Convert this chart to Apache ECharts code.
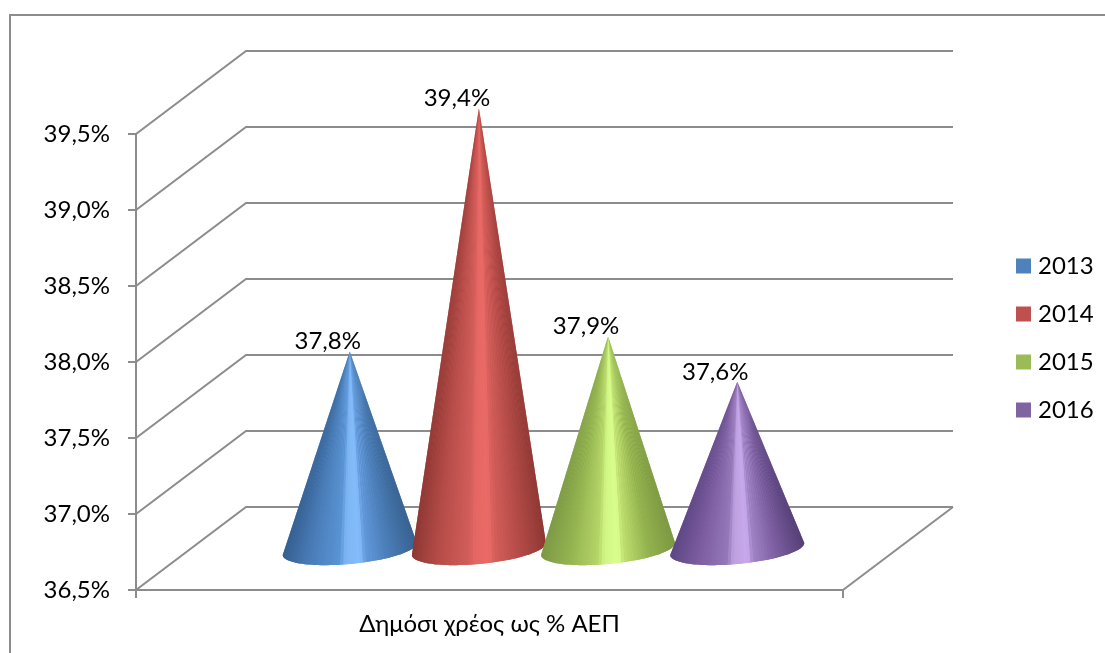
<!DOCTYPE html>
<html>
<head>
<meta charset="utf-8">
<style>
  html, body { margin: 0; padding: 0; background: #fff; }
  #chart { width: 1105px; height: 653px; }
</style>
<script src="https://cdn.jsdelivr.net/npm/echarts@6/dist/echarts.min.js"></script>
</head>
<body>
<div id="chart"></div>
<script>
// Chart data
const categories = ['Δημόσι χρέος ως % ΑΕΠ'];
const years = ['2013', '2014', '2015', '2016'];
const debtShare = [37.8, 39.4, 37.9, 37.6];
const wallTicks = [36.5, 37, 37.5, 38, 38.5, 39, 39.5];

// Appearance
const FONT = 'Lato, "Noto Sans", sans-serif';
const FONT_SIZE = 24;
const AXIS_GREY = '#8c8c8c';
const legendColors = ['#4f81bd', '#c0504d', '#9bbb59', '#8064a2'];
const shadePositions = [0, 0.2, 0.42, 0.47, 0.58, 0.62, 0.8, 1];
const coneShades = [
  ['#366092', '#4a7db8', '#5a94d4', '#7eb6f5', '#85bdfb', '#6299dc', '#4a7cb5', '#386290'],
  ['#8f3835', '#b74d49', '#d15d59', '#e56763', '#ea6b67', '#d45e5a', '#b54c48', '#8f3835'],
  ['#7d9a45', '#93b350', '#b5d568', '#d0f585', '#dbff8f', '#bfdf70', '#94b44f', '#7d9843'],
  ['#5f4784', '#7c5da0', '#9478b8', '#bea0e0', '#c8aaee', '#a184c5', '#7c5ea0', '#564078']
];

// Pseudo-3D projection of the plot box
const WALL_DEPTH = [110, -83];
const CONE_DEPTH = [54, -41];
const SLOT_SHARE = 0.1827;   // width of one cone slot relative to the category band
const BASE_RADIUS = 67;
const BASE_MINOR = 15;
const BASE_TILT = 6;
const SLICES = 64;
const TICK_LENGTH = 8;

function parseHex(hex) {
  return [1, 3, 5].map(function (i) { return parseInt(hex.slice(i, i + 2), 16); });
}

function shadeAt(stops, u) {
  let k = 0;
  while (k < shadePositions.length - 2 && u > shadePositions[k + 1]) k++;
  const t = Math.min(1, Math.max(0, (u - shadePositions[k]) / (shadePositions[k + 1] - shadePositions[k])));
  const a = parseHex(stops[k]);
  const b = parseHex(stops[k + 1]);
  const rgb = a.map(function (c, i) { return Math.round(c + (b[i] - c) * t); });
  return 'rgb(' + rgb.join(',') + ')';
}

function formatPercent(v) {
  return v.toFixed(1).replace('.', ',') + '%';
}

// Back wall lines, the side of the floor, and the two ticks below the floor edge
function renderWall(params, api) {
  const tick = api.value(0);
  const front = api.coord([0, tick]);
  const box = params.coordSys;
  const backY = front[1] + WALL_DEPTH[1];
  const lineStyle = { stroke: AXIS_GREY, lineWidth: 2, fill: null };
  const children = [{
    type: 'polyline',
    shape: { points: [[box.x, front[1]], [box.x + WALL_DEPTH[0], backY], [box.x + box.width + WALL_DEPTH[0], backY]] },
    style: lineStyle
  }];
  if (params.dataIndex === 0) {
    children.push({
      type: 'polyline',
      shape: { points: [[box.x + box.width, front[1]], [box.x + box.width + WALL_DEPTH[0], backY]] },
      style: lineStyle
    });
    [box.x, box.x + box.width].forEach(function (x) {
      children.push({
        type: 'line',
        shape: { x1: x, y1: front[1], x2: x, y2: front[1] + TICK_LENGTH },
        style: lineStyle
      });
    });
  }
  return { type: 'group', children: children };
}

// A cone: a gradient silhouette underneath, then thin slices fanning out of the apex
function coneRenderer(seriesIndex) {
  return function (params, api) {
    const value = api.value(1);
    const band = api.size([1, 0])[0];
    const shift = (seriesIndex - (years.length - 1) / 2) * band * SLOT_SHARE + CONE_DEPTH[0];
    const top = api.coord([0, value]);
    const floor = api.coord([0, wallTicks[0]]);
    const cx = top[0] + shift;
    const apex = [cx, top[1] + CONE_DEPTH[1]];
    const cy = floor[1] + CONE_DEPTH[1];
    const stops = coneShades[seriesIndex];
    const rim = function (theta) {
      return [
        cx + BASE_RADIUS * Math.cos(theta),
        cy + BASE_MINOR * Math.sin(theta) - BASE_TILT * Math.cos(theta)
      ];
    };
    const outline = [apex];
    for (let i = 0; i <= SLICES; i++) outline.push(rim(Math.PI * i / SLICES));
    const children = [{
      type: 'polygon',
      shape: { points: outline },
      style: {
        fill: new echarts.graphic.LinearGradient(0, 0, 1, 0, shadePositions.map(function (p, k) {
          return { offset: p, color: stops[k] };
        }))
      }
    }];
    for (let i = 0; i < SLICES; i++) {
      const p0 = rim(Math.PI * i / SLICES);
      const p1 = rim(Math.PI * (i + 1) / SLICES);
      const u = ((p0[0] + p1[0]) / 2 - (cx - BASE_RADIUS)) / (2 * BASE_RADIUS);
      children.push({
        type: 'polygon',
        shape: { points: [apex, p0, p1] },
        style: { fill: shadeAt(stops, u) }
      });
    }
    children.push({
      type: 'text',
      style: {
        text: formatPercent(value),
        x: apex[0] - 22,
        y: apex[1] - 10,
        align: 'center',
        verticalAlign: 'middle',
        fontFamily: FONT,
        fontSize: FONT_SIZE,
        fill: '#000'
      }
    });
    return { type: 'group', children: children };
  };
}

const coneSeries = years.map(function (year, i) {
  return {
    type: 'custom',
    name: year,
    z: 5 + i,
    renderItem: coneRenderer(i),
    itemStyle: { color: legendColors[i] },
    data: [[0, debtShare[i]]],
    encode: { x: 0, y: 1 }
  };
});

const chart = echarts.init(document.getElementById('chart'));
chart.setOption({
  animation: false,
  backgroundColor: '#fff',
  grid: { left: 136, right: 262, top: 134, bottom: 63 },
  graphic: [{
    type: 'polyline',
    silent: true,
    shape: { points: [[10, 653], [10, 15], [1105, 15]] },
    style: { stroke: AXIS_GREY, lineWidth: 2, fill: null }
  }],
  legend: {
    orient: 'vertical',
    left: 1011,
    top: 249,
    icon: 'rect',
    itemWidth: 15,
    itemHeight: 15,
    itemGap: 24,
    textStyle: { fontFamily: FONT, fontSize: FONT_SIZE, color: '#000', padding: [0, 0, 0, 2] },
    data: years
  },
  xAxis: {
    type: 'category',
    data: categories,
    axisLine: { lineStyle: { color: AXIS_GREY, width: 2 } },
    axisTick: { show: false },
    axisLabel: { margin: 22, fontFamily: FONT, fontSize: FONT_SIZE, color: '#000' }
  },
  yAxis: {
    type: 'value',
    min: 36.5,
    max: 39.5,
    interval: 0.5,
    splitLine: { show: false },
    axisLine: { show: true, lineStyle: { color: AXIS_GREY, width: 2 } },
    axisTick: { show: true, length: TICK_LENGTH, lineStyle: { color: AXIS_GREY, width: 2 } },
    axisLabel: { margin: 26, padding: [3, 0, 0, 0], fontFamily: FONT, fontSize: FONT_SIZE, color: '#000', formatter: formatPercent }
  },
  series: [{
    type: 'custom',
    name: 'wall',
    z: 1,
    silent: true,
    renderItem: renderWall,
    data: wallTicks.map(function (t) { return [t]; }),
    encode: { y: 0 }
  }].concat(coneSeries)
});
</script>
</body>
</html>
